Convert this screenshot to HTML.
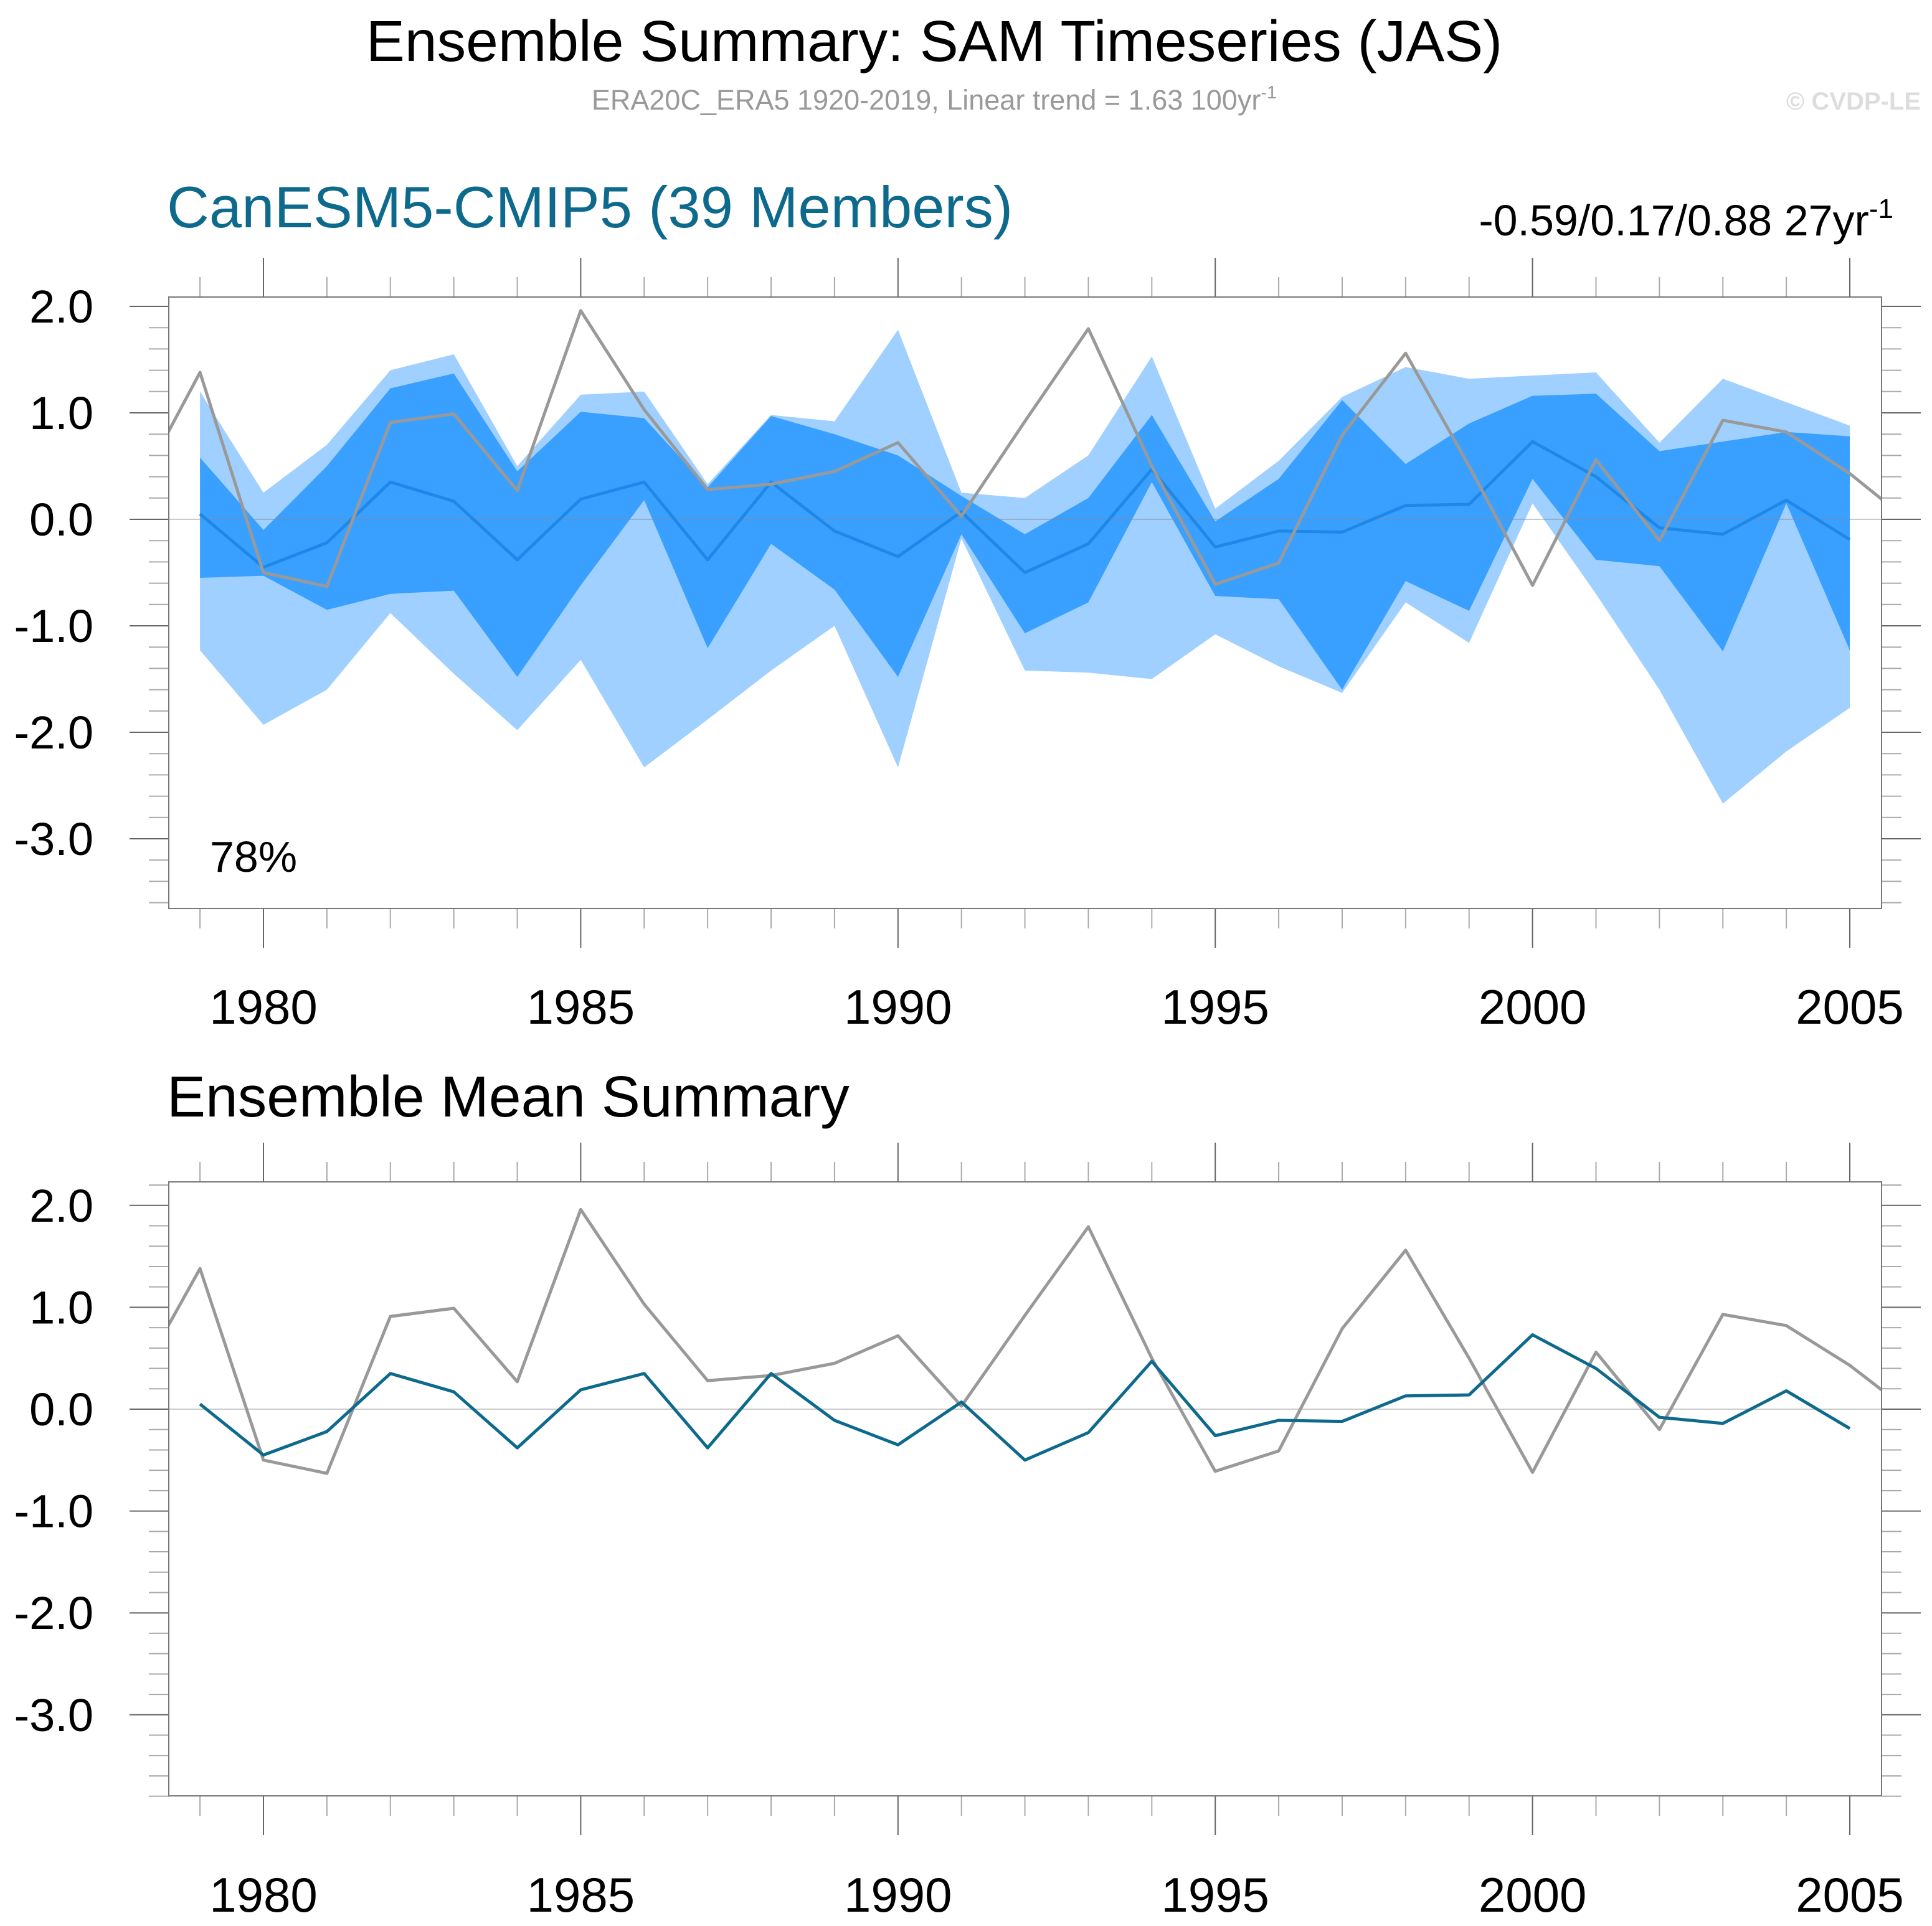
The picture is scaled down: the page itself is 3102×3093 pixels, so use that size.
<!DOCTYPE html>
<html><head><meta charset="utf-8"><style>
html,body{margin:0;padding:0;background:#fff}
svg{display:block;font-family:"Liberation Sans",sans-serif}
</style></head><body>
<svg id="chart" width="3102" height="3093" viewBox="0 0 3102 3093" xmlns="http://www.w3.org/2000/svg">
<text x="1500" y="98" font-size="93" text-anchor="middle" fill="#000">Ensemble Summary: SAM Timeseries (JAS)</text>
<text x="1500" y="176" font-size="45" text-anchor="middle" fill="#999">ERA20C_ERA5 1920-2019, Linear trend = 1.63 100yr<tspan dy="-18" font-size="29">-1</tspan></text>
<text x="3084" y="176" font-size="40" font-weight="bold" text-anchor="end" fill="#ddd">© CVDP-LE</text>
<text x="268" y="365" font-size="94" fill="#0d6a8c">CanESM5-CMIP5 (39 Members)</text>
<text x="3040" y="378" font-size="70" text-anchor="end" fill="#000">-0.59/0.17/0.88 27yr<tspan dy="-28" font-size="44">-1</tspan></text>
<text x="337" y="1400" font-size="70" fill="#000">78%</text>
<text x="268" y="1793" font-size="93" fill="#000">Ensemble Mean Summary</text>
<g id="top"></g><g id="bot"></g>
</svg>
<script>
const years=[1979,1980,1981,1982,1983,1984,1985,1986,1987,1988,1989,1990,1991,1992,1993,1994,1995,1996,1997,1998,1999,2000,2001,2002,2003,2004,2005];
const obsYears=[1978,1979,1980,1981,1982,1983,1984,1985,1986,1987,1988,1989,1990,1991,1992,1993,1994,1995,1996,1997,1998,1999,2000,2001,2002,2003,2004,2005,2006];
const obs=[0.26,1.38,-0.50,-0.63,0.91,0.99,0.27,1.96,1.03,0.28,0.33,0.45,0.72,0.03,0.92,1.79,0.50,-0.61,-0.41,0.79,1.56,0.50,-0.62,0.56,-0.20,0.93,0.82,0.43,-0.05];
const ensMean=[0.05,-0.45,-0.22,0.35,0.17,-0.38,0.19,0.35,-0.38,0.35,-0.11,-0.35,0.07,-0.50,-0.23,0.47,-0.26,-0.11,-0.12,0.13,0.14,0.73,0.40,-0.08,-0.14,0.18,-0.19];
const outerMax=[1.20,0.25,0.70,1.40,1.55,0.50,1.17,1.20,0.33,0.98,0.92,1.78,0.25,0.20,0.60,1.53,0.10,0.55,1.15,1.43,1.32,1.35,1.38,0.72,1.32,1.10,0.88];
const outerMin=[-1.23,-1.93,-1.60,-0.88,-1.45,-1.98,-1.32,-2.33,-1.88,-1.42,-1.00,-2.33,-0.18,-1.42,-1.44,-1.50,-1.08,-1.38,-1.63,-0.78,-1.16,0.15,-0.70,-1.60,-2.67,-2.18,-1.77];
const innerMax=[0.58,-0.10,0.50,1.23,1.37,0.45,1.01,0.95,0.30,0.97,0.80,0.60,0.22,-0.14,0.20,0.98,-0.02,0.38,1.12,0.52,0.90,1.16,1.18,0.64,0.73,0.82,0.78];
const innerMin=[-0.55,-0.53,-0.85,-0.70,-0.67,-1.48,-0.62,0.18,-1.21,-0.23,-0.66,-1.48,-0.14,-1.07,-0.78,0.35,-0.72,-0.75,-1.60,-0.58,-0.86,0.38,-0.38,-0.44,-1.24,0.15,-1.23];
const yTicks=[2,1,0,-1,-2,-3];
const yTickLabels=["2.0","1.0","0.0","-1.0","-2.0","-3.0"];
const xTicks=[1980,1985,1990,1995,2000,2005];

const NS="http://www.w3.org/2000/svg";
const L=271,R=3021;
const x=y=>423+(y-1980)*101.88;
function mk(p,t,a){const e=document.createElementNS(NS,t);for(const k in a)e.setAttribute(k,a[k]);p.appendChild(e);return e;}
function panel(g,top,bot,zeroY,unit,id){
  const y=v=>zeroY-v*unit;
  const cid='clip'+id;
  const cp=mk(g,'clipPath',{id:cid});mk(cp,'rect',{x:L,y:top,width:R-L,height:bot-top});
  const inner=mk(g,'g',{'clip-path':'url(#'+cid+')'});
  return {y,inner};
}
function axes(g,top,bot,y,yMin,yMax,labelY){
  for(let v=Math.ceil(yMin*5);v<=Math.floor(yMax*5);v++){
    const val=v/5,yy=y(val);if(yy<top-1||yy>bot+1)continue;
    const major=v%5===0;
    const t1=mk(g,'line',{x1:major?208:239,x2:L,y1:yy,y2:yy,stroke:major?'#666':'#aaa','stroke-width':2});
    
    
    const t2=mk(g,'line',{x1:R,x2:major?R+63:R+32,y1:yy,y2:yy,stroke:major?'#666':'#aaa','stroke-width':2});
    
    
  }
  yTicks.forEach((v,i)=>{
    const t=mk(g,'text',{x:150,y:y(v)+26,'font-size':74,'text-anchor':'end',fill:'#000'});
    t.textContent=yTickLabels[i];
    
    
  });
  for(let yr=1979;yr<=2005;yr++){
    const major=yr%5===0,xx=x(yr),len=major?63:32;
    const a=mk(g,'line',{x1:xx,x2:xx,y1:top-len,y2:top,stroke:major?'#666':'#aaa','stroke-width':2});
    
    
    const b=mk(g,'line',{x1:xx,x2:xx,y1:bot,y2:bot+len,stroke:major?'#666':'#aaa','stroke-width':2});
    
    
  }
  xTicks.forEach(yr=>{
    const t=mk(g,'text',{x:x(yr),y:labelY,'font-size':78,'text-anchor':'middle',fill:'#000'});
    t.textContent=yr;
    
    
  });
  const f=mk(g,'rect',{x:L,y:top,width:R-L,height:bot-top,fill:'none',stroke:'#777','stroke-width':2});
  
  
}
function band(g,hi,lo,y,color,name){
  let d='';
  years.forEach((yr,i)=>{d+=(i?'L':'M')+x(yr)+','+y(hi[i]);});
  for(let i=years.length-1;i>=0;i--)d+='L'+x(years[i])+','+y(lo[i]);
  const p=mk(g,'path',{d:d+'Z',fill:color});
  
  
}
function line(g,xs,vals,y,color,w,name){
  const p=mk(g,'polyline',{points:xs.map((yr,i)=>x(yr)+','+y(vals[i])).join(' '),fill:'none',stroke:color,'stroke-width':w,'stroke-linejoin':'round'});
  
  
}
{
  const g=document.getElementById('top');
  
  
  const top=477,bot=1459,zero=834,unit=171;
  const P=panel(g,top,bot,zero,unit,'t');
  band(P.inner,outerMax,outerMin,P.y,'#a0d0ff','outer-range-band');
  band(P.inner,innerMax,innerMin,P.y,'#3aa0ff','inner-range-band');
  const z=mk(P.inner,'line',{x1:L,x2:R,y1:zero,y2:zero,stroke:'#888','stroke-width':1.5,'stroke-opacity':0.6});
  
  
  line(P.inner,years,ensMean,P.y,'#1e88e8',5,'ensemble-mean-line');
  line(P.inner,obsYears,obs,P.y,'#999',5,'observed-line');
  axes(g,top,bot,P.y,-3.7,2.1,1644);
}
{
  const g=document.getElementById('bot');
  
  
  const top=1898,bot=2884,zero=2263,unit=163.6;
  const P=panel(g,top,bot,zero,unit,'b');
  const z=mk(P.inner,'line',{x1:L,x2:R,y1:zero,y2:zero,stroke:'#bbb','stroke-width':1.5});
  
  
  line(P.inner,obsYears,obs,P.y,'#999',5,'observed-line');
  line(P.inner,years,ensMean,P.y,'#0d6a8c',5,'ensemble-mean-line');
  axes(g,top,bot,P.y,-3.8,2.2,3070);
}
</script>
</body></html>
